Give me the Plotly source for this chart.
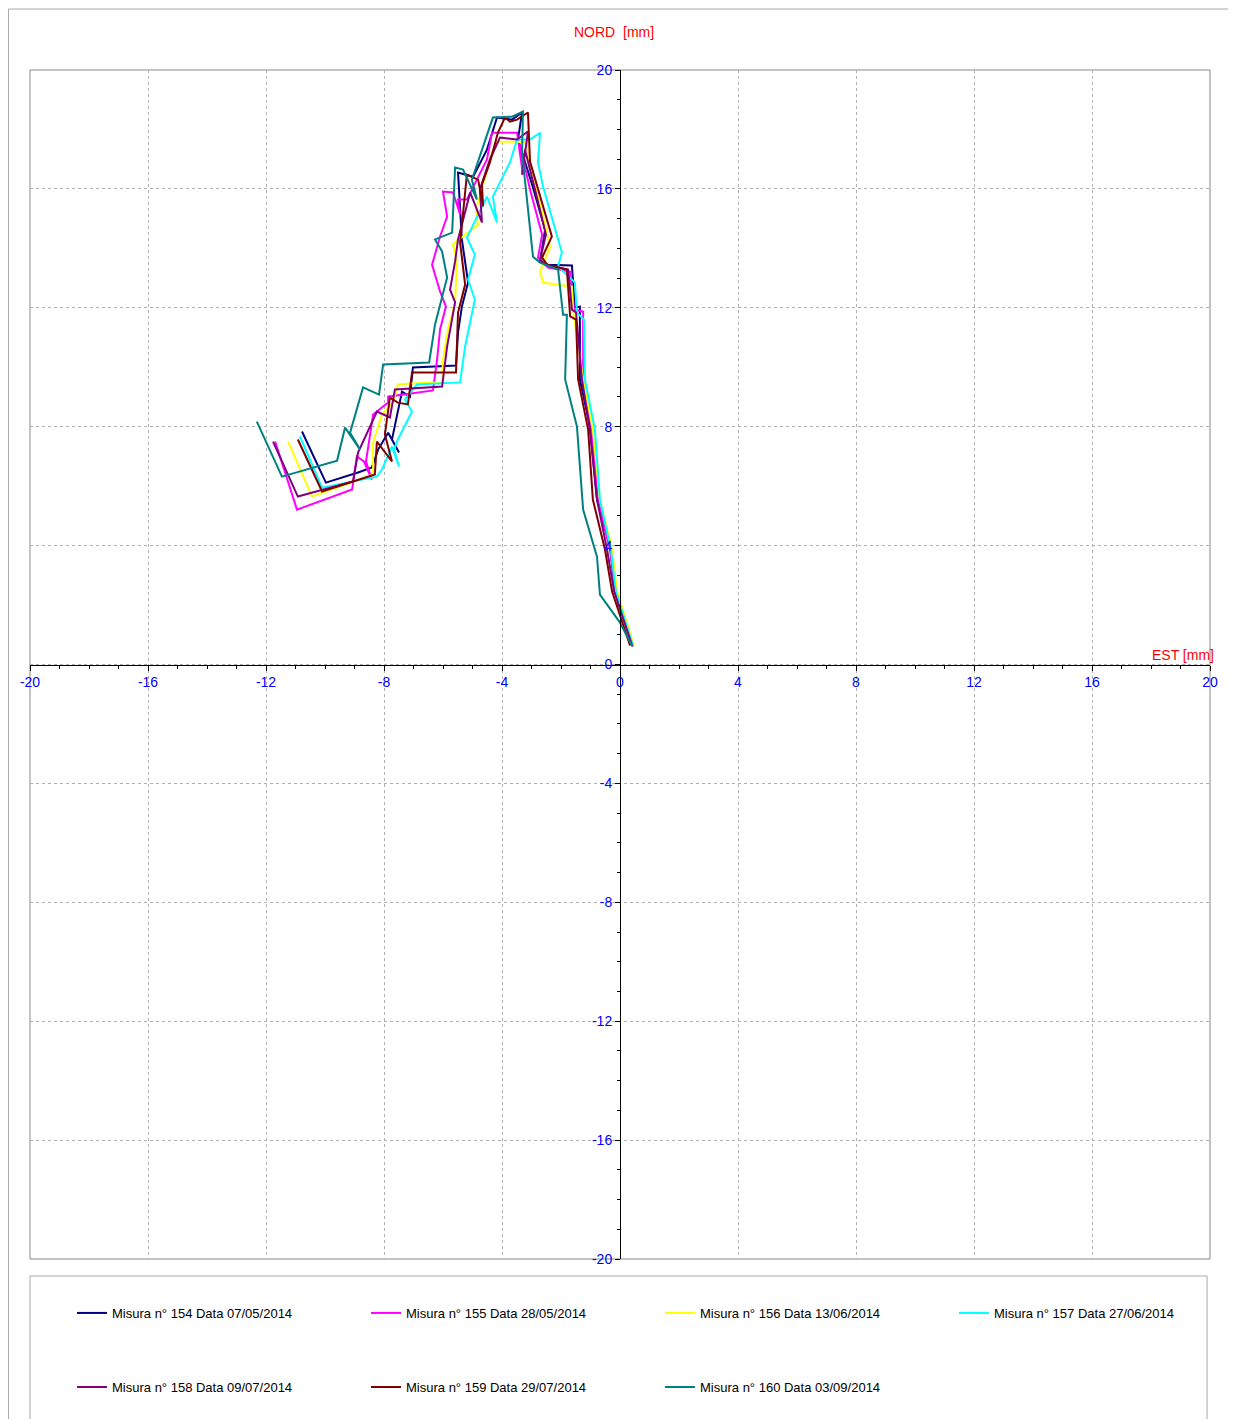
import plotly.graph_objects as go

names = [
    "Misura n° 154 Data 07/05/2014",
    "Misura n° 155 Data 28/05/2014",
    "Misura n° 156 Data 13/06/2014",
    "Misura n° 157 Data 27/06/2014",
    "Misura n° 158 Data 09/07/2014",
    "Misura n° 159 Data 29/07/2014",
    "Misura n° 160 Data 03/09/2014",
]
colors = ["#000080", "#FF00FF", "#FFFF00", "#00FFFF", "#800080", "#800000", "#008080"]
legend_ids = ["legend", "legend", "legend", "legend3", "legend2", "legend2", "legend2"]

tick_vals = [-20, -16, -12, -8, -4, 0, 4, 8, 12, 16, 20]
tick_text = ["-20", "-16", "-12", "-8", "-4", "0", "4", "8", "12", "16", "20"]

est_154 = [-10.78, -9.97, -8.88, -8.41, -8.20, -7.86, -7.49, -7.73, -7.39, -7.12, -7.02, -5.56, -5.49, -5.36, -5.15,
           -5.36, -5.49, -4.98, -4.51, -4.17, -3.66, -3.32, -3.46, -2.98, -2.54, -2.71, -2.44, -1.63, -1.53, -1.36,
           -1.36, -1.02, -0.78, -0.34, -0.17, 0.44]
nord_154 = [7.84, 6.12, 6.46, 6.63, 7.23, 7.80, 7.13, 7.57, 9.18, 9.01, 9.99, 10.06, 11.17, 12.04, 12.85,
            14.30, 16.55, 16.41, 17.32, 18.40, 18.33, 18.57, 17.66, 16.15, 14.63, 13.56, 13.45, 13.42, 12.01, 12.04,
            9.59, 8.01, 5.55, 3.97, 2.52, 0.61]

est_155 = [-11.69, -10.95, -9.08, -8.92, -8.68, -8.41, -8.61, -8.37, -7.86, -7.86, -6.34, -6.20, -6.10, -5.90, -6.10,
           -6.37, -6.10, -5.86, -6.00, -5.66, -5.42, -5.49, -5.19, -4.51, -4.34, -3.49, -3.29, -3.39, -3.05, -2.64,
           -2.78, -2.44, -1.69, -1.56, -1.25, -1.25, -0.95, -0.75, -0.34, -0.14, 0.44]
nord_155 = [7.50, 5.21, 5.89, 7.00, 6.83, 6.22, 6.83, 8.41, 8.81, 9.01, 9.22, 10.26, 11.27, 12.04, 12.55,
            13.45, 14.40, 15.07, 15.91, 15.88, 15.14, 15.64, 15.64, 16.99, 17.89, 17.89, 16.48, 17.49, 15.98, 14.46,
            13.69, 13.35, 13.22, 11.94, 11.87, 9.59, 7.90, 5.55, 3.87, 2.46, 0.64]

est_156 = [-11.25, -10.44, -8.37, -8.37, -8.07, -7.69, -7.53, -7.12, -6.03, -6.00, -5.83, -5.59, -5.53, -5.66, -5.25,
           -4.81, -4.88, -4.34, -4.17, -3.56, -3.15, -3.12, -2.95, -2.37, -2.71, -2.61, -1.63, -1.59, -1.25, -0.92,
           -0.68, -0.27, -0.10, 0.47]
nord_156 = [7.50, 5.65, 6.39, 7.47, 8.41, 8.81, 9.42, 9.45, 9.49, 10.26, 11.27, 12.18, 13.62, 14.13, 14.46,
            14.80, 15.30, 17.22, 17.59, 17.59, 17.56, 16.99, 16.55, 14.06, 13.22, 12.85, 12.71, 11.94, 9.59, 7.90,
            5.55, 3.87, 2.46, 0.64]

est_157 = [-10.85, -10.10, -8.24, -8.07, -7.73, -7.49, -7.66, -7.53, -7.05, -7.29, -6.88, -5.42, -5.25, -4.92, -5.15,
           -4.92, -5.19, -4.51, -4.17, -4.31, -3.73, -3.49, -3.05, -2.71, -2.78, -2.61, -1.97, -2.10, -1.53, -1.46,
           -1.22, -1.19, -0.85, -0.68, -0.31, -0.14, 0.44]
nord_157 = [7.67, 5.95, 6.32, 6.56, 7.33, 6.66, 7.23, 7.57, 8.51, 8.91, 9.42, 9.49, 10.70, 12.28, 12.95,
            13.79, 14.36, 15.74, 14.87, 15.74, 16.89, 17.66, 17.66, 17.89, 16.89, 16.08, 13.86, 13.39, 12.85, 11.84,
            11.60, 9.59, 7.90, 5.55, 3.87, 2.46, 0.64]

est_158 = [-11.76, -10.92, -9.05, -8.88, -8.24, -7.80, -7.63, -6.03, -5.86, -5.59, -5.76, -5.59, -5.49, -5.08, -4.68,
           -4.75, -4.41, -4.07, -3.49, -3.12, -3.32, -3.22, -2.88, -2.51, -2.71, -2.51, -1.76, -1.63, -1.49, -1.29,
           -1.02, -0.78, -0.44, -0.20, 0.41]
nord_158 = [7.50, 5.65, 6.16, 7.13, 8.51, 8.31, 9.25, 9.35, 10.70, 12.18, 12.61, 13.56, 14.30, 15.88, 14.87,
            15.98, 16.99, 17.73, 17.66, 17.93, 16.48, 17.32, 15.98, 14.46, 13.62, 13.45, 13.29, 11.94, 11.84, 9.59,
            7.90, 5.55, 3.87, 2.46, 0.64]

est_159 = [-10.92, -10.10, -8.31, -8.24, -7.73, -7.97, -7.80, -7.53, -7.19, -7.05, -5.56, -5.49, -5.25, -5.42, -5.19,
           -4.81, -4.64, -4.68, -4.41, -4.14, -3.90, -3.73, -3.49, -3.12, -3.05, -2.31, -2.64, -2.47, -1.80, -1.69,
           -1.49, -1.42, -1.08, -0.92, -0.51, -0.27, 0.34]
nord_159 = [7.57, 5.82, 6.39, 7.50, 6.83, 7.74, 8.98, 8.81, 8.75, 9.82, 9.82, 11.84, 12.78, 14.19, 16.48,
            16.31, 15.41, 16.15, 16.89, 17.89, 18.40, 18.26, 18.33, 18.57, 16.92, 14.40, 13.69, 13.45, 13.29, 11.71,
            11.60, 9.59, 7.90, 5.55, 3.87, 2.46, 0.64]

est_160 = [-12.31, -11.46, -9.59, -9.32, -8.81, -9.15, -8.71, -8.17, -8.03, -6.47, -6.27, -5.86, -6.03, -6.27, -5.69,
           -5.59, -5.32, -4.85, -5.02, -4.31, -3.66, -3.29, -3.32, -2.95, -2.71, -2.10, -1.93, -1.80, -1.86, -1.46,
           -1.25, -0.78, -0.68, 0.00, 0.41]
nord_160 = [8.17, 6.32, 6.86, 7.97, 7.23, 7.80, 9.32, 9.08, 10.09, 10.16, 11.44, 13.02, 13.89, 14.30, 14.53,
            16.72, 16.65, 15.64, 16.31, 18.40, 18.43, 18.60, 17.22, 13.72, 13.52, 13.29, 11.77, 11.77, 9.59, 8.01,
            5.21, 3.63, 2.35, 1.41, 0.61]

series_x = [est_154, est_155, est_156, est_157, est_158, est_159, est_160]
series_y = [nord_154, nord_155, nord_156, nord_157, nord_158, nord_159, nord_160]

FONT = "Liberation Sans, Arial, sans-serif"

fig = go.Figure()
for i, (xs, ys) in enumerate(zip(series_x, series_y)):
    fig.add_trace(go.Scatter(
        x=xs, y=ys, mode="lines", name=names[i],
        line=dict(color=colors[i], width=2),
        legend=legend_ids[i],
    ))

axis_common = dict(
    range=[-20, 20], tickmode="array", tickvals=tick_vals, ticktext=tick_text,
    showgrid=True, gridcolor="#b0b0b0", griddash="dot", gridwidth=1,
    zeroline=False, showline=True, linecolor="black", linewidth=1,
    ticks="outside", ticklen=5, tickcolor="black",
    minor=dict(dtick=1, tick0=0, ticks="outside", ticklen=3, tickcolor="black", showgrid=False),
    tickfont=dict(color="#0000FF", size=14, family=FONT),
    anchor="free", position=0.5, fixedrange=True,
)

legend_common = dict(orientation="h", xanchor="left", yanchor="middle",
                     entrywidth=249, entrywidthmode="pixels", font=dict(size=13, family=FONT),
                     bgcolor="rgba(0,0,0,0)", itemwidth=30)

fig.update_layout(
    width=1228, height=1411,
    margin=dict(l=22, r=26, t=62, b=160, autoexpand=False),
    paper_bgcolor="white", plot_bgcolor="white",
    font=dict(family=FONT, size=13, color="black"),
    xaxis=dict(**axis_common),
    yaxis=dict(**axis_common),
    legend=dict(x=0.0356, y=-0.0454, **legend_common),
    legend3=dict(x=0.783, y=-0.0454, **legend_common),
    legend2=dict(x=0.0356, y=-0.1077, **legend_common),
    showlegend=True,
    shapes=[
        dict(type="rect", xref="paper", yref="paper", x0=0, x1=1, y0=0, y1=1,
             line=dict(color="#888888", width=1), layer="below"),
        dict(type="rect", xref="paper", yref="paper", x0=0, x1=0.9975, y0=-0.0143, y1=-0.20,
             line=dict(color="#aaaaaa", width=1)),
        dict(type="rect", xref="paper", yref="paper", x0=-0.0182, x1=1.0195, y0=1.0513, y1=-0.20,
             line=dict(color="#aaaaaa", width=1)),
    ],
    annotations=[
        dict(text="NORD  [mm]", xref="paper", yref="paper", x=0.495, y=1.032,
             xanchor="center", yanchor="middle",
             showarrow=False, font=dict(color="#FF0000", size=14, family=FONT)),
        dict(text="EST [mm]", xref="paper", yref="paper", x=1.005, y=0.5,
             xanchor="right", yanchor="bottom", showarrow=False,
             font=dict(color="#FF0000", size=14, family=FONT)),
    ],
)

fig.write_html("out.html")
